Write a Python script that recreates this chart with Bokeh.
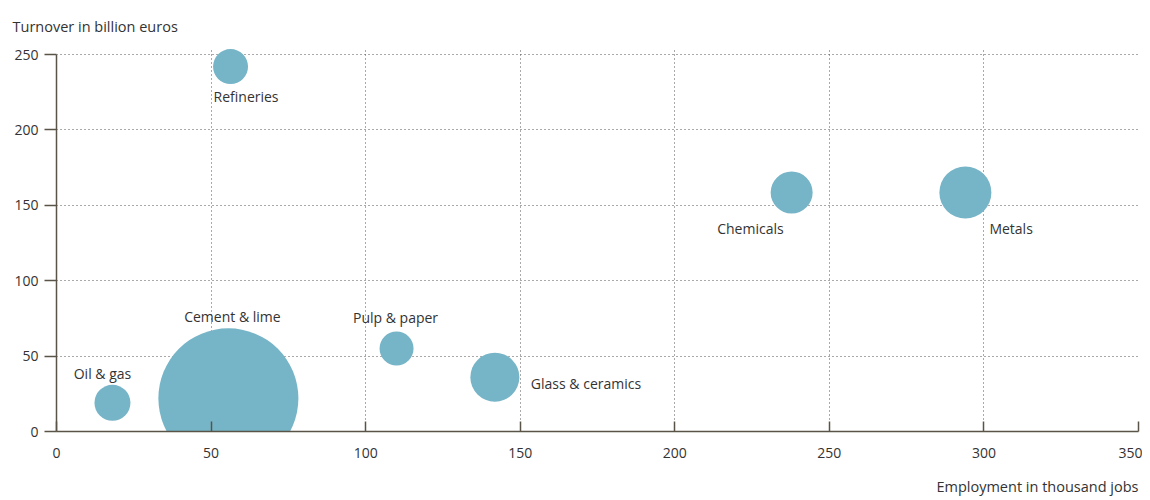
from bokeh.plotting import figure
from bokeh.models import ColumnDataSource, Title, SingleIntervalTicker, Range1d
from bokeh.core.properties import value
from bokeh.embed import file_html
from bokeh.resources import INLINE

# ---- data ----
sectors = ["Refineries", "Oil & gas", "Cement & lime", "Pulp & paper",
           "Glass & ceramics", "Chemicals", "Metals"]
employment = [56.3, 18.1, 55.6, 110.0, 141.8, 237.8, 294.0]   # thousand jobs
turnover = [242, 19, 22, 55, 36, 158.5, 158.5]                 # billion euros
bubble_value = [35, 36, 140, 34, 49, 42, 52]                   # relative bubble magnitude

# ---- label styling (screen offsets, not data) ----
lab_align = ["left", "center", "center", "center", "left", "right", "left"]
lab_dx = [-17, -10, 4, -1, 36, -8, 24]
lab_dy = [30, -29, -82, -31, 6, 36, 36]

FONT = "Open Sans"
TXT = "#333333"
AX = "#5a5448"

src = ColumnDataSource(dict(x=employment, y=turnover, s=bubble_value, name=sectors,
                            align=lab_align, dx=lab_dx, dy=lab_dy))

p = figure(frame_width=1082, frame_height=383, output_backend="svg",
           toolbar_location=None, x_range=Range1d(0, 350), y_range=Range1d(0, 254),
           min_border_left=56, min_border_right=4, min_border_top=48, min_border_bottom=68)
p.outline_line_color = None
p.background_fill_color = "white"

p.scatter("x", "y", size="s", source=src, fill_color="#76b4c7", line_color=None)

p.text("x", "y", text="name", source=src, text_align="align", text_baseline="middle",
       x_offset="dx", y_offset="dy", text_font=value(FONT), text_font_size="14px",
       text_color=TXT)

for ax in (p.xaxis[0], p.yaxis[0]):
    ax.axis_line_color = AX
    ax.axis_line_width = 1.5
    ax.major_tick_line_color = AX
    ax.major_tick_line_width = 1.5
    ax.minor_tick_line_color = None
    ax.major_label_text_font = FONT
    ax.major_label_text_font_size = "14px"
    ax.major_label_text_color = TXT

p.xaxis.ticker = SingleIntervalTicker(interval=50)
p.yaxis.ticker = SingleIntervalTicker(interval=50)
p.xaxis.major_tick_in = 10
p.xaxis.major_tick_out = 0
p.xaxis.major_label_standoff = 12
p.yaxis.major_tick_in = 0
p.yaxis.major_tick_out = 12
p.yaxis.major_label_standoff = 6
p.yaxis.bounds = (0, 250)

for g in (p.xgrid[0], p.ygrid[0]):
    g.grid_line_color = "#555555"
    g.grid_line_dash = "1 3"
    g.grid_line_width = 1

p.add_layout(Title(text="Turnover in billion euros", align="left", offset=-44,
                   text_font=FONT, text_font_size="14.5px", text_font_style="normal",
                   text_color=TXT, standoff=26), "above")
p.add_layout(Title(text="Employment in thousand jobs", align="right",
                   text_font=FONT, text_font_size="14.5px", text_font_style="normal",
                   text_color=TXT, standoff=28), "below")

open("out.html", "w").write(file_html(p, INLINE))
